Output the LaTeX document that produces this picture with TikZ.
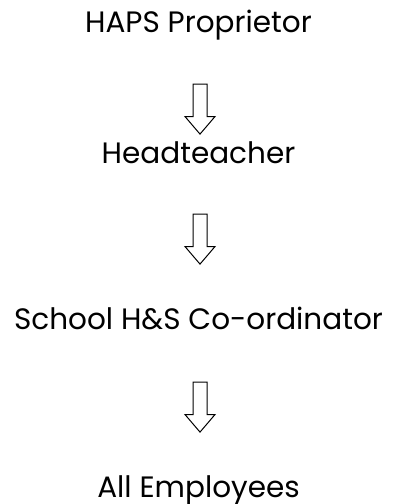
\documentclass[tikz,border=0pt]{standalone}
\usepackage{fontspec}
\setmainfont{Poppins}
\usetikzlibrary{shapes.arrows}

\begin{document}
\begin{tikzpicture}[x=1pt,y=-1pt]
\tikzset{role/.style={anchor=base,font=\fontsize{29.5}{34}\selectfont,inner sep=0pt}}
\tikzset{down/.style={single arrow,draw=black,line width=1pt,fill=white,rotate=-90,
  minimum height=50pt,single arrow head extend=8pt,
  single arrow tip angle=81,inner xsep=0pt,inner ysep=6.5pt}}
\useasboundingbox (0,0) rectangle (397,504);
\node[role] at (198.5,32) (prop) {HAPS Proprietor};
\node[role] at (198.5,163) (head) {Headteacher};
\node[role] at (198.5,329) (coord) {School H\&S Co-ordinator};
\node[role] at (198.5,497) (staff) {All Employees};
\node[down] at (200,105) (a1) {};
\node[down] at (200,235) (a2) {};
\node[down] at (200,403) (a3) {};
\end{tikzpicture}
\end{document}
